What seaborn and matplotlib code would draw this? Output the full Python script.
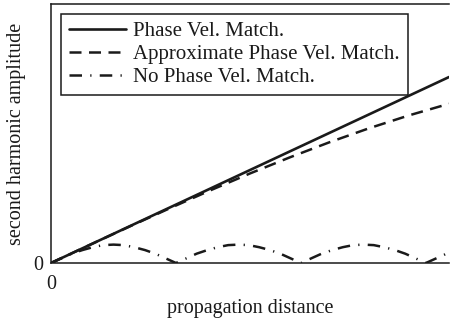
import matplotlib
matplotlib.use("Agg")
import matplotlib.pyplot as plt
import seaborn as sns
import pandas as pd

# ---- data (arbitrary units) ----
match_x = [0.0, 0.25, 0.5, 0.75, 1.0]
match_y = [0.0, 0.1795, 0.359, 0.5385, 0.718]

approx_x = [0.0, 0.1, 0.2, 0.3, 0.4, 0.5, 0.6, 0.7, 0.8, 0.9, 1.0]
approx_y = [0.0, 0.0717, 0.1427, 0.2125, 0.2803, 0.3457, 0.4078, 0.4664, 0.5207, 0.5702, 0.6148]

nomatch_x = [0.000, 0.026, 0.052, 0.079, 0.105, 0.131, 0.157, 0.183, 0.209, 0.236,
             0.262, 0.288, 0.314, 0.340, 0.366, 0.393, 0.419, 0.445, 0.471, 0.497,
             0.523, 0.550, 0.576, 0.602, 0.628, 0.654, 0.680, 0.707, 0.733, 0.759,
             0.785, 0.811, 0.837, 0.864, 0.890, 0.916, 0.942, 0.968, 0.994, 1.000]
nomatch_y = [0.000, 0.018, 0.036, 0.050, 0.061, 0.069, 0.071, 0.069, 0.061, 0.050,
             0.036, 0.018, 0.000, 0.018, 0.036, 0.050, 0.061, 0.069, 0.071, 0.069,
             0.061, 0.050, 0.036, 0.018, 0.000, 0.018, 0.036, 0.050, 0.061, 0.069,
             0.071, 0.069, 0.061, 0.050, 0.036, 0.018, 0.000, 0.018, 0.036, 0.039]

labels = ["Phase Vel. Match.", "Approximate Phase Vel. Match.", "No Phase Vel. Match."]
x_ticks = [0]
y_ticks = [0]

sns.set_style("white")
plt.rcParams["font.family"] = ["Liberation Serif", "DejaVu Serif"]

fig = plt.figure(figsize=(4.5, 3.24), dpi=100)
ax = fig.add_axes([51 / 450, 61 / 324, 398 / 450, 259 / 324])

df1 = pd.DataFrame({"x": match_x, "y": match_y})
df2 = pd.DataFrame({"x": approx_x, "y": approx_y})
df3 = pd.DataFrame({"x": nomatch_x, "y": nomatch_y})

sns.lineplot(data=df1, x="x", y="y", ax=ax, color="#1a1a1a", lw=1.9,
             label=labels[0], sort=False, estimator=None)
sns.lineplot(data=df2, x="x", y="y", ax=ax, color="#1a1a1a", lw=1.8,
             label=labels[1], sort=False, estimator=None)
sns.lineplot(data=df3, x="x", y="y", ax=ax, color="#1a1a1a", lw=1.8,
             label=labels[2], sort=False, estimator=None)

lines = ax.get_lines()
lines[1].set_dashes([4.8, 3.0])
lines[2].set_dashes([5.0, 3.3, 0.5, 3.3])

ax.set_xlim(0, 1)
ax.set_ylim(0, 1)
ax.set_xticks(x_ticks)
ax.set_yticks(y_ticks)
ax.set_xticklabels([str(v) for v in x_ticks])
ax.set_yticklabels([str(v) for v in y_ticks])
ax.tick_params(axis="both", length=0, labelsize=14.5, colors="#1a1a1a")
ax.tick_params(axis="x", pad=8.5)
ax.tick_params(axis="y", pad=5.5)

for side in ["left", "bottom", "top"]:
    ax.spines[side].set_color("#1a1a1a")
    ax.spines[side].set_linewidth(1.1)
ax.spines["right"].set_visible(False)

ax.set_xlabel("propagation distance", fontsize=14.5, color="#1a1a1a", labelpad=4)
ax.set_ylabel("second harmonic amplitude", fontsize=14.5, color="#1a1a1a", labelpad=5)

leg = ax.legend(loc="upper left", bbox_to_anchor=(0.025, 0.963), borderaxespad=0,
                fontsize=15, frameon=True, fancybox=False, edgecolor="#1a1a1a",
                framealpha=1, handlelength=2.7, handletextpad=0.35,
                borderpad=0.4, labelspacing=0.15)
leg.get_frame().set_linewidth(1.1)
for t in leg.get_texts():
    t.set_color("#1a1a1a")

fig.savefig("out.png", dpi=100)
